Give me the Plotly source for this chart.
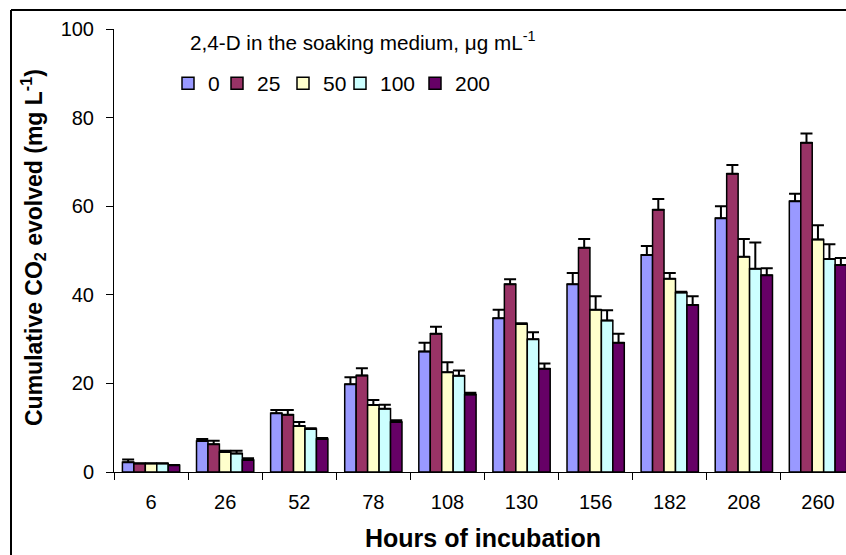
import plotly.graph_objects as go

# ---- data ----
hours = ["6", "26", "52", "78", "108", "130", "156", "182", "208", "260"]
doses = ["0", "25", "50", "100", "200"]

co2_0   = [2.2, 7.0, 13.25, 19.8, 27.2, 34.7, 42.4, 49.0, 57.3, 61.1]
co2_25  = [1.9, 6.25, 12.9, 21.8, 31.2, 42.4, 50.6, 59.2, 67.3, 74.3]
co2_50  = [1.9, 4.5, 10.4, 15.1, 22.5, 33.4, 36.6, 43.6, 48.6, 52.5]
co2_100 = [1.9, 4.2, 9.7, 14.3, 21.7, 29.95, 34.2, 40.5, 45.9, 48.1]
co2_200 = [1.5, 2.7, 7.45, 11.3, 17.5, 23.3, 29.2, 37.7, 44.4, 46.7]

err_0   = [0.6, 0.45, 0.75, 1.6, 2.0, 1.9, 2.5, 2.0, 2.7, 1.7]
err_25  = [0.1, 0.8, 1.1, 1.6, 1.6, 1.1, 2.0, 2.4, 2.0, 2.1]
err_50  = [0.1, 0.3, 0.9, 1.15, 2.3, 0.2, 3.1, 1.3, 4.0, 3.2]
err_100 = [0.1, 0.6, 0.15, 0.9, 1.2, 1.6, 2.3, 0.2, 5.9, 3.3]
err_200 = [0.1, 0.4, 0.2, 0.4, 0.4, 1.2, 2.0, 2.0, 1.6, 1.6]

series_vals = [co2_0, co2_25, co2_50, co2_100, co2_200]
series_errs = [err_0, err_25, err_50, err_100, err_200]
colors = ["#9999FF", "#993366", "#FFFFCC", "#CCFFFF", "#660066"]
legend_widths = [4, 21, 12, 30, 40]

yticks = [0, 20, 40, 60, 80, 100]

# ---- layout geometry (pixels) ----
W, H = 846, 555
ML, MR, MT, MB = 114, 0, 29, 83
PW, PH = W - ML - MR, H - MT - MB
CAT_PX = 74.1

def px(x):
    return (x - ML) / PW

def py(y):
    return (H - MB - y) / PH

FONT = "Liberation Sans, Arial, sans-serif"

fig = go.Figure()
for name, vals, errs, col, lw in zip(doses, series_vals, series_errs, colors, legend_widths):
    fig.add_trace(go.Bar(
        x=hours, y=vals, name=name, legendwidth=lw,
        marker=dict(color=col, line=dict(color="black", width=1.5)),
        error_y=dict(type="data", array=errs, arrayminus=[0] * len(errs),
                     symmetric=False, color="black", thickness=2, width=6),
    ))

fig.update_layout(
    width=W, height=H, autosize=False,
    margin=dict(l=ML, r=MR, t=MT, b=MB, pad=0),
    paper_bgcolor="white", plot_bgcolor="white",
    barmode="group", bargap=0.227, bargroupgap=0,
    font=dict(family=FONT, color="black", size=20),
    showlegend=True,
    legend=dict(orientation="h", x=px(168), xanchor="left",
                y=py(63), yanchor="top", font=dict(size=21),
                bgcolor="rgba(0,0,0,0)", borderwidth=0,
                traceorder="normal", itemwidth=30),
    xaxis=dict(type="category", range=[-0.5, -0.5 + PW / CAT_PX],
               showline=True, linecolor="black", linewidth=1,
               ticks="outside", tickson="boundaries", ticklen=7,
               tickcolor="black", tickwidth=1, ticklabelstandoff=12,
               tickfont=dict(size=20), showgrid=False, zeroline=False),
    yaxis=dict(range=[0, 100], tickvals=yticks,
               showline=True, linecolor="black", linewidth=1,
               ticks="outside", ticklen=7, tickcolor="black", tickwidth=1,
               ticklabelstandoff=8, tickfont=dict(size=20),
               showgrid=False, zeroline=False),
)

annotations = [
    dict(text="<b>Cumulative CO<sub>2</sub> evolved (mg L<sup>-1</sup>)</b>",
         x=px(33), y=py(248), xref="paper", yref="paper",
         textangle=-90, showarrow=False, xanchor="center", yanchor="middle",
         font=dict(size=23)),
    dict(text="<b>Hours of incubation</b>",
         x=px(483), y=py(538), xref="paper", yref="paper",
         showarrow=False, xanchor="center", yanchor="middle",
         font=dict(size=25)),
    dict(text="2,4-D in the soaking medium, \u03bcg mL<sup>-1</sup>",
         x=px(188), y=py(41), xref="paper", yref="paper",
         showarrow=False, xanchor="left", yanchor="middle",
         font=dict(size=20.7)),
]
fig.update_layout(annotations=annotations)

# outer chart frame (only top and left edges visible in the crop)
fig.add_shape(type="line", xref="paper", yref="paper",
              x0=px(11), x1=px(W + 10), y0=py(10), y1=py(10),
              line=dict(color="black", width=2))
fig.add_shape(type="line", xref="paper", yref="paper",
              x0=px(11), x1=px(11), y0=py(10), y1=py(H + 10),
              line=dict(color="black", width=2))

fig.write_html("out.html")
